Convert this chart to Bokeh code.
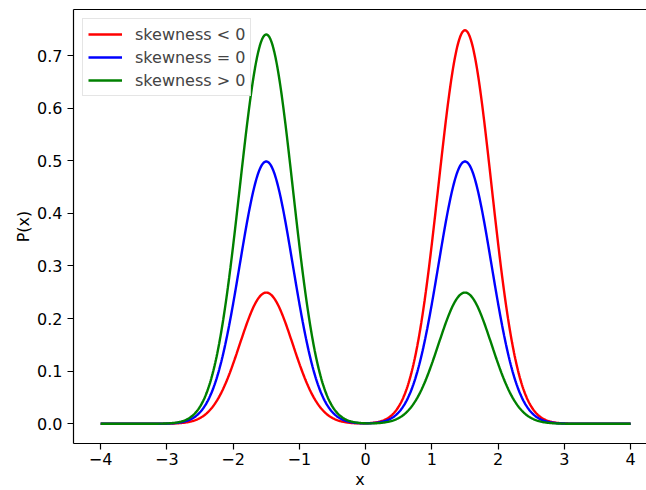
import numpy as np
from bokeh.plotting import figure
from bokeh.models import Range1d, LinearAxis, FixedTicker, Legend, LegendItem, Title
from bokeh.embed import file_html
from bokeh.resources import INLINE

# Two-component Gaussian mixtures: component centres, width, and per-series weights
centers = [-1.5, 1.5]
sigma = 0.4
labels = ["skewness < 0", "skewness = 0", "skewness > 0"]
left_weights = [0.25, 0.5, 0.742]
right_weights = [0.75, 0.5, 0.25]
colors = ["red", "blue", "green"]

x_ticks = [-4, -3, -2, -1, 0, 1, 2, 3, 4]
y_ticks = [0.0, 0.1, 0.2, 0.3, 0.4, 0.5, 0.6, 0.7]

x = np.linspace(-4, 4, 801)


def gauss(xs, mu, s):
    return np.exp(-0.5 * ((xs - mu) / s) ** 2) / (np.sqrt(2 * np.pi) * s)


FONT = "DejaVu Sans"

p = figure(width=646, height=490, output_backend="svg", toolbar_location=None,
           x_range=Range1d(-4.41, 4.24), y_range=Range1d(-0.0375, 0.7875),
           min_border_left=73, min_border_right=0, min_border_top=9, min_border_bottom=47)
p.outline_line_color = None
p.xgrid.visible = False
p.ygrid.visible = False
p.background_fill_color = "white"
p.border_fill_color = "white"

renderers = []
for lab, wl, wr, c in zip(labels, left_weights, right_weights, colors):
    y = wl * gauss(x, centers[0], sigma) + wr * gauss(x, centers[1], sigma)
    r = p.line(x, y, line_color=c, line_width=2.4)
    renderers.append((lab, r))

for ax in (p.xaxis[0], p.yaxis[0]):
    ax.axis_line_color = "black"
    ax.axis_line_width = 1.2
    ax.major_tick_line_color = "black"
    ax.major_tick_line_width = 1.2
    ax.major_tick_out = 6
    ax.major_tick_in = 0
    ax.minor_tick_out = 0
    ax.minor_tick_in = 0
    ax.major_label_text_font = FONT
    ax.major_label_text_font_size = "16px"
    ax.major_label_text_color = "black"
    ax.major_label_standoff = 5
    ax.axis_label_text_font = FONT
    ax.axis_label_text_font_size = "16px"
    ax.axis_label_text_font_style = "normal"
    ax.axis_label_text_color = "black"

p.xaxis.major_label_standoff = 3
p.yaxis.axis_label_standoff = 1

p.xaxis.ticker = FixedTicker(ticks=x_ticks)
p.xaxis.major_label_overrides = {t: (str(t).replace("-", "\u2212")) for t in x_ticks}
p.yaxis.ticker = FixedTicker(ticks=y_ticks)
p.yaxis.major_label_overrides = {t: f"{t:.1f}" for t in y_ticks}
p.yaxis.axis_label = "P(x)"

# x-axis title in the panel under the tick labels
p.add_layout(Title(text="x", align="center", vertical_align="bottom", standoff=0, offset=0,
                   text_font=FONT, text_font_size="16px", text_font_style="normal",
                   text_color="black"), "below")

# top spine only (no right spine)
top = LinearAxis(ticker=FixedTicker(ticks=[]), axis_line_color="black", axis_line_width=1.2,
                 major_tick_out=0, major_tick_in=0, minor_tick_out=0, minor_tick_in=0,
                 major_label_text_font_size="0px", major_label_standoff=0)
p.add_layout(top, "above")

legend = Legend(items=[LegendItem(label=lab, renderers=[r]) for lab, r in renderers],
                location="top_left", margin=9, padding=5, spacing=3,
                glyph_width=34, glyph_height=20, label_height=20, label_standoff=13,
                label_text_font=FONT, label_text_font_size="16px",
                border_line_color="#cccccc", border_line_width=1,
                background_fill_alpha=0.8)
p.add_layout(legend)

open("out.html", "w").write(file_html(p, INLINE))
